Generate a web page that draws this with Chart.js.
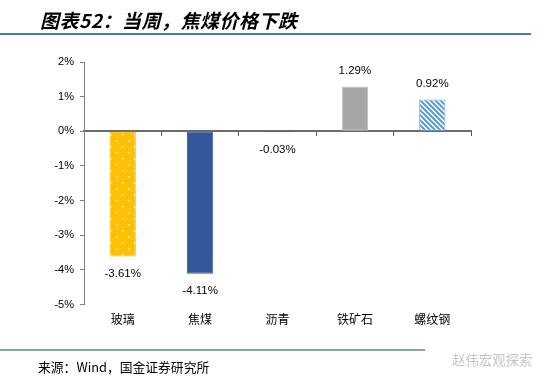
<!DOCTYPE html>
<html>
<head>
<meta charset="utf-8">
<script src="https://cdn.jsdelivr.net/npm/chart.js@4"></script>
<style>
  html, body { margin: 0; padding: 0; background: #fff; }
  #wrap { position: relative; width: 550px; height: 380px; overflow: hidden; }
  #c { position: absolute; left: 0; top: 0; }
  .title { position: absolute; left: 40px; top: 6px; font: italic bold 19px "Noto Sans CJK SC", sans-serif; color: #000; white-space: nowrap; letter-spacing: 0.5px; }
  .topline { position: absolute; left: 0; top: 33px; width: 531px; height: 2px; background: #4a7aa8; }
  .botline { position: absolute; left: 0; top: 349px; width: 425px; height: 2px; background: #8aa2b8; }
  .source { position: absolute; left: 38px; top: 357px; font: 12.8px "Noto Sans CJK SC", sans-serif; color: #000; white-space: nowrap; }
  .wm { position: absolute; left: 452px; top: 349px; font: 13.4px "Noto Sans CJK SC", sans-serif; color: #c4c4c4; white-space: nowrap; }
</style>
</head>
<body>
<div id="wrap">
  <canvas id="c" width="550" height="380"></canvas>
  <div class="title">图表52：当周，焦煤价格下跌</div>
  <div class="topline"></div>
  <div class="botline"></div>
  <div class="source">来源：Wind，国金证券研究所</div>
  <div class="wm">赵伟宏观探索</div>
</div>
<script>
const categories = ['玻璃', '焦煤', '沥青', '铁矿石', '螺纹钢'];
const values = [-3.61, -4.11, -0.03, 1.29, 0.92];
const valueLabels = ['-3.61%', '-4.11%', '-0.03%', '1.29%', '0.92%'];
const yTicks = { min: -5, max: 2, step: 1 };

function dotPattern(bg, dot) {
  const t = document.createElement('canvas');
  t.width = 12; t.height = 12;
  const g = t.getContext('2d');
  g.fillStyle = bg; g.fillRect(0, 0, 12, 12);
  g.fillStyle = dot;
  g.fillRect(2, 2, 1.6, 1.6);
  g.fillRect(8, 8, 1.6, 1.6);
  return g.createPattern(t, 'repeat');
}
function stripePattern(fg, bg) {
  const s = 5;
  const t = document.createElement('canvas');
  t.width = s; t.height = s;
  const g = t.getContext('2d');
  g.fillStyle = bg; g.fillRect(0, 0, s, s);
  g.strokeStyle = fg; g.lineWidth = 2;
  g.beginPath();
  g.moveTo(-1, -1); g.lineTo(s + 1, s + 1);
  g.moveTo(-1, s - 1); g.lineTo(1, s + 1);
  g.moveTo(s - 1, -1); g.lineTo(s + 1, 1);
  g.stroke();
  return g.createPattern(t, 'repeat');
}

const fills = [
  dotPattern('#FFC000', '#FFF3C4'),
  '#34569A',
  '#2B3A8C',
  '#A6A6A6',
  stripePattern('#5B9BD5', '#FFFFFF')
];
const borders = ['#FFC000', '#3F62A6', '#2B3A8C', '#BFBFBF', '#7FB0DE'];

const labelPlugin = {
  id: 'valueLabels',
  afterDatasetsDraw(chart) {
    const ctx = chart.ctx;
    const meta = chart.getDatasetMeta(0);
    ctx.save();
    ctx.font = '11.5px "Liberation Sans", Arial, sans-serif';
    ctx.fillStyle = '#000';
    ctx.textAlign = 'center';
    ctx.textBaseline = 'middle';
    meta.data.forEach((bar, i) => {
      const v = values[i];
      const y = v >= 0 ? bar.y - 16 : bar.y + 17;
      ctx.fillText(valueLabels[i], bar.x, y);
    });
    ctx.restore();
  }
};

new Chart(document.getElementById('c'), {
  type: 'bar',
  data: {
    labels: categories,
    datasets: [{
      data: values,
      backgroundColor: fills,
      borderColor: borders,
      borderWidth: 1,
      borderSkipped: false,
      barPercentage: 0.34,
      categoryPercentage: 1.0
    }]
  },
  options: {
    responsive: false,
    animation: false,
    devicePixelRatio: 1,
    layout: { padding: { top: 62, left: 0, right: 79, bottom: 45 } },
    plugins: { legend: { display: false }, tooltip: { enabled: false } },
    scales: {
      x: {
        grid: { display: false, drawTicks: false },
        border: { display: false },
        ticks: {
          padding: 8,
          color: '#000',
          font: { family: '"Noto Sans CJK SC", sans-serif', size: 12 }
        }
      },
      x2: {
        type: 'category',
        position: { y: 0 },
        offset: true,
        afterFit(s) { s.height = 0; },
        grid: { drawOnChartArea: false, drawTicks: true, tickLength: 4, color: '#595959', offset: true },
        border: { display: true, color: '#6b6b6b', width: 2 },
        ticks: { display: false }
      },
      y: {
        min: yTicks.min,
        max: yTicks.max,
        afterFit(s) { s.width = 84; },
        grid: { drawOnChartArea: false, drawTicks: true, tickLength: 4, color: '#7f7f7f' },
        border: { display: true, color: '#7f7f7f', width: 1 },
        ticks: {
          stepSize: yTicks.step,
          padding: 6,
          color: '#000',
          font: { family: '"Liberation Sans", Arial, sans-serif', size: 11 },
          callback: v => v + '%'
        }
      }
    }
  },
  plugins: [labelPlugin]
});
</script>
</body>
</html>
